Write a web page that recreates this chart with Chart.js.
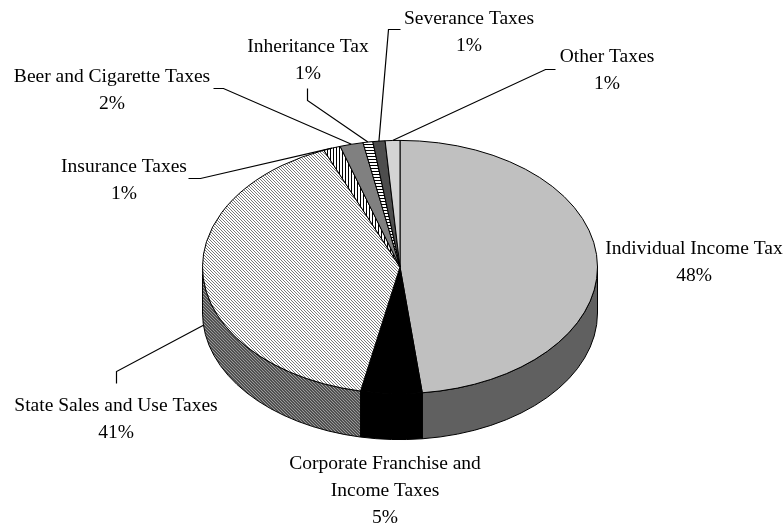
<!DOCTYPE html>
<html>
<head>
<meta charset="utf-8">
<script src="https://cdn.jsdelivr.net/npm/chart.js@4/dist/chart.umd.min.js"></script>
<style>
    html, body { margin: 0; padding: 0; background: #fff; }
    #wrap { width: 784px; height: 524px; }
</style>
</head>
<body>
<div id="wrap"><canvas id="tax-chart" width="784" height="524"></canvas></div>
<script>
// Revenue sources (share of total, %)
const categories = [
    'Individual Income Tax',
    'Corporate Franchise and Income Taxes',
    'State Sales and Use Taxes',
    'Insurance Taxes',
    'Beer and Cigarette Taxes',
    'Inheritance Tax',
    'Severance Taxes',
    'Other Taxes'
];
const shares = [48.2, 5.0, 40.5, 1.4, 1.9, 0.8, 1.0, 1.2];
const percentLabels = ['48%', '5%', '41%', '1%', '2%', '1%', '1%', '1%'];

// label text lines per slice
const labelLines = [
    ['Individual Income Tax'],
    ['Corporate Franchise and', 'Income Taxes'],
    ['State Sales and Use Taxes'],
    ['Insurance Taxes'],
    ['Beer and Cigarette Taxes'],
    ['Inheritance Tax'],
    ['Severance Taxes'],
    ['Other Taxes']
];

document.addEventListener('DOMContentLoaded', function() {
    const canvas = document.getElementById('tax-chart');
    const ctx = canvas.getContext('2d');

    function hatch(bg, fg, size, drawFn) {
        const c = document.createElement('canvas');
        c.width = size; c.height = size;
        const g = c.getContext('2d');
        g.fillStyle = bg;
        g.fillRect(0, 0, size, size);
        g.fillStyle = fg;
        drawFn(g, size);
        return ctx.createPattern(c, 'repeat');
    }
    // diagonal "\" lines
    function diag(g, s) {
        for (let i = 0; i < s; i++) g.fillRect(i, i, 1, 1);
    }
    const salesTop = hatch('#ffffff', '#7a7a7a', 3, diag);
    const salesSide = hatch('#505050', '#9a9a9a', 3, diag);
    const vertLines = hatch('#ffffff', '#000000', 3, function(g, s) { g.fillRect(0, 0, 1, s); });
    const horzLines = hatch('#ffffff', '#000000', 3, function(g, s) { g.fillRect(0, 0, s, 1); });

    const topFills = ['#c0c0c0', '#000000', salesTop, vertLines, '#808080', horzLines, '#4d4d4d', '#d4d4d4'];
    const sideFills = ['#606060', '#000000', salesSide, vertLines, '#5a5a5a', horzLines, '#333333', '#9a9a9a'];

    const tilt = 0.641;   // vertical squash of the pie top
    const depth = 46;     // thickness of the pie

    // label positions (centre x, first baseline y)
    const labelPos = [
        [694, 254], [385, 469], [116, 411], [124, 172],
        [112, 82], [308, 52], [469, 24], [607, 62]
    ];
    // leader lines: bend points from label toward slice
    const leaders = [
        null,
        null,
        [[116, 383], [116, 371]],
        [[188, 178], [200, 178]],
        [[213, 88], [223, 88]],
        [[307, 88], [307, 100]],
        [[400, 29], [388, 29]],
        [[555, 69], [545, 69]]
    ];

    const pie3d = {
        id: 'pie3d',
        beforeDatasetDraw: function(chart, args) {
            const meta = args.meta;
            const c = chart.ctx;
            const arcs = meta.data;
            const cx = arcs[0].x, cy = arcs[0].y;
            const rx = arcs[0].outerRadius, ry = rx * tilt;

            c.save();
            c.lineWidth = 1;
            c.strokeStyle = '#000';
            c.lineJoin = 'round';

            // outer side walls, front half only (0..PI in canvas angles)
            arcs.forEach(function(arc, i) {
                const twoPi = Math.PI * 2;
                let s = ((arc.startAngle % twoPi) + twoPi) % twoPi;
                let e = s + (arc.endAngle - arc.startAngle);
                const ranges = [];
                [[0, Math.PI], [twoPi, twoPi + Math.PI]].forEach(function(r) {
                    const lo = Math.max(s, r[0]), hi = Math.min(e, r[1]);
                    if (hi > lo) ranges.push([lo, hi]);
                });
                ranges.forEach(function(r) {
                    c.beginPath();
                    c.ellipse(cx, cy, rx, ry, 0, r[0], r[1], false);
                    c.lineTo(cx + rx * Math.cos(r[1]), cy + ry * Math.sin(r[1]) + depth);
                    c.ellipse(cx, cy + depth, rx, ry, 0, r[1], r[0], true);
                    c.closePath();
                    c.fillStyle = sideFills[i];
                    c.fill();
                    c.stroke();
                });
            });

            // top faces
            arcs.forEach(function(arc, i) {
                c.beginPath();
                c.moveTo(cx, cy);
                c.ellipse(cx, cy, rx, ry, 0, arc.startAngle, arc.endAngle, false);
                c.closePath();
                c.fillStyle = topFills[i];
                c.fill();
                c.stroke();
            });
            c.restore();
            return false;
        },
        afterDraw: function(chart) {
            const c = chart.ctx;
            const arcs = chart.getDatasetMeta(0).data;
            const cx = arcs[0].x, cy = arcs[0].y;
            const rx = arcs[0].outerRadius, ry = rx * tilt;

            c.save();
            c.strokeStyle = '#000';
            c.lineWidth = 1.2;
            arcs.forEach(function(arc, i) {
                if (!leaders[i]) return;
                const mid = (arc.startAngle + arc.endAngle) / 2;
                let tx = cx + rx * Math.cos(mid);
                let ty = cy + ry * Math.sin(mid);
                if (Math.sin(mid) > 0.05) ty += depth;
                c.beginPath();
                c.moveTo(leaders[i][0][0] + 0.5, leaders[i][0][1] + 0.5);
                c.lineTo(leaders[i][1][0] + 0.5, leaders[i][1][1] + 0.5);
                c.lineTo(tx, ty);
                c.stroke();
            });

            c.fillStyle = '#000';
            c.font = '19.5px "Liberation Serif", "Times New Roman", serif';
            c.textAlign = 'center';
            c.textBaseline = 'alphabetic';
            labelLines.forEach(function(lines, i) {
                const p = labelPos[i];
                const all = lines.concat([percentLabels[i]]);
                all.forEach(function(t, k) {
                    c.fillText(t, p[0], p[1] + k * 27);
                });
            });
            c.restore();
        }
    };

    new Chart(canvas, {
        type: 'pie',
        data: {
            labels: categories,
            datasets: [{
                data: shares,
                borderWidth: 1,
                borderColor: '#000'
            }]
        },
        options: {
            responsive: false,
            animation: false,
            layout: {
                padding: { left: 202, right: 186, top: 69, bottom: 59 }
            },
            plugins: {
                legend: { display: false },
                tooltip: { enabled: false }
            }
        },
        plugins: [pie3d]
    });
});
</script>
</body>
</html>
